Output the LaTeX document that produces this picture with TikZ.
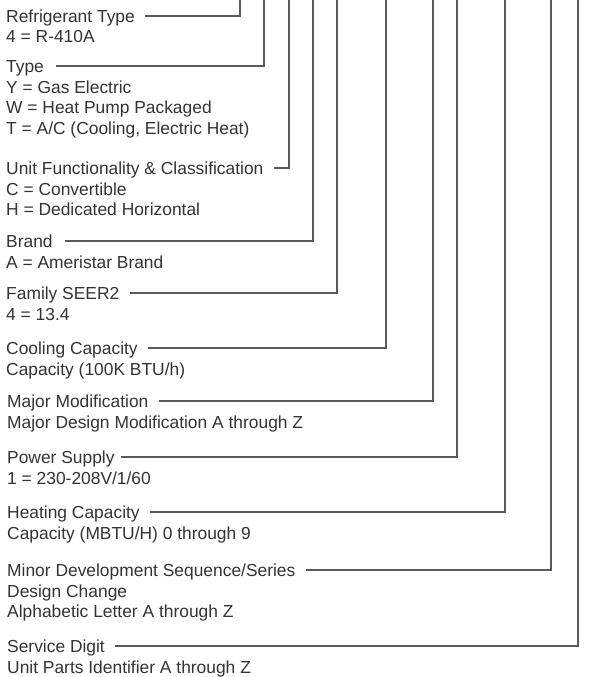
\documentclass[tikz,border=0pt]{standalone}
\usepackage{fontspec}
\setmainfont{Liberation Sans}
\usetikzlibrary{positioning,calc}

\definecolor{inkgray}{HTML}{333333}
\definecolor{rulegray}{HTML}{5A5A5A}

% value lines stacked under a field, baseline on the first line
\newcommand{\vlist}[1]{\begin{tabular}[t]{@{}l@{}}#1\end{tabular}}

\begin{document}
\begin{tikzpicture}[
  x=1pt, y=-1pt,
  field/.style={anchor=base west, inner sep=0pt, text=inkgray, font=\fontsize{17.4}{20.5}\selectfont},
  values/.style={anchor=base west, inner sep=0pt, text=inkgray, font=\fontsize{17.4}{20.5}\selectfont},
  leader/.style={draw=rulegray, line width=1.1pt},
]
\useasboundingbox (0,0) rectangle (589,677);

% === Top ends of the leaders (one per digit) ===
\coordinate (d1) at (240,0);
\coordinate (d2) at (264,0);
\coordinate (d3) at (289,0);
\coordinate (d4) at (313,0);
\coordinate (d5) at (337,0);
\coordinate (d6) at (386,0);
\coordinate (d7) at (433,0);
\coordinate (d8) at (457,0);
\coordinate (d9) at (505,0);
\coordinate (d10) at (551,0);
\coordinate (d11) at (578,0);

% === Field names (baselines) ===
\node[field] (refrig) at (6,22.5) {Refrigerant Type};
\node[field] (type) at (6,72.5) {Type};
\node[field] (unitfn) at (6,174.5) {Unit Functionality \& Classification};
\node[field] (brand) at (6,247.5) {Brand};
\node[field] (seer) at (6,299.5) {Family SEER2};
\node[field] (cool) at (6,354.5) {Cooling Capacity};
\node[field] (major) at (7,407.5) {Major Modification};
\node[field] (power) at (7,463.5) {Power Supply};
\node[field] (heat) at (7,518.5) {Heating Capacity};
\node[field] (minor) at (7,576.5) {Minor Development Sequence/Series};
\node[field] (service) at (7,652.5) {Service Digit};

% === Values under each field ===
\node[values] (refrigv) at ([yshift=-20.5pt]refrig.base west) {4 = R-410A};
\node[values] (typev) at ([yshift=-20.5pt]type.base west) {\vlist{Y = Gas Electric\\W = Heat Pump Packaged\\T = A/C (Cooling, Electric Heat)}};
\node[values] (unitfnv) at ([yshift=-20.5pt]unitfn.base west) {\vlist{C = Convertible\\H = Dedicated Horizontal}};
\node[values] (brandv) at ([yshift=-20.5pt]brand.base west) {A = Ameristar Brand};
\node[values] (seerv) at ([yshift=-20.5pt]seer.base west) {4 = 13.4};
\node[values] (coolv) at ([yshift=-20.5pt]cool.base west) {Capacity (100K BTU/h)};
\node[values] (majorv) at ([yshift=-20.5pt]major.base west) {Major Design Modification A through Z};
\node[values] (powerv) at ([yshift=-20.5pt]power.base west) {1 = 230-208V/1/60};
\node[values] (heatv) at ([yshift=-20.5pt]heat.base west) {Capacity (MBTU/H) 0 through 9};
\node[values] (minorv) at ([yshift=-20.5pt]minor.base west) {\vlist{Design Change\\Alphabetic Letter A through Z}};
\node[values] (servicev) at ([yshift=-20.5pt]service.base west) {Unit Parts Identifier A through Z};

% === Leaders up to the digits ===
\draw[leader] ([xshift=10pt,yshift=6.5pt]refrig.base east) -| (d1);
\draw[leader] ([xshift=12pt,yshift=6.5pt]type.base east) -| (d2);
\draw[leader] ([xshift=10pt,yshift=6.5pt]unitfn.base east) -| (d3);
\draw[leader] ([xshift=12pt,yshift=6.5pt]brand.base east) -| (d4);
\draw[leader] ([xshift=10pt,yshift=6.5pt]seer.base east) -| (d5);
\draw[leader] ([xshift=10pt,yshift=6.5pt]cool.base east) -| (d6);
\draw[leader] ([xshift=10pt,yshift=6.5pt]major.base east) -| (d7);
\draw[leader] ([xshift=6pt,yshift=6.5pt]power.base east) -| (d8);
\draw[leader] ([xshift=10pt,yshift=6.5pt]heat.base east) -| (d9);
\draw[leader] ([xshift=10pt,yshift=6.5pt]minor.base east) -| (d10);
\draw[leader] ([xshift=10pt,yshift=6.5pt]service.base east) -| (d11);

\end{tikzpicture}
\end{document}
